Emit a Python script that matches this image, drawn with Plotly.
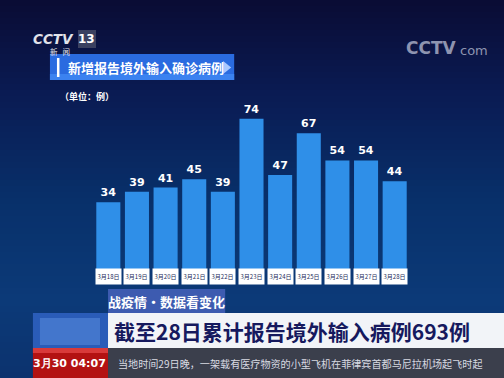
import plotly.graph_objects as go

categories = ["3月18日", "3月19日", "3月20日", "3月21日", "3月22日", "3月23日",
              "3月24日", "3月25日", "3月26日", "3月27日", "3月28日"]
values = [34, 39, 41, 45, 39, 74, 47, 67, 54, 54, 44]
title_text = "新增报告境外输入确诊病例"
unit_text = "（单位：例）"
tag_text = "战疫情•数据看变化"
headline_text = "截至28日累计报告境外输入病例693例"
ticker_time = "3月30 04:07"
ticker_text = "当地时间29日晚，一架载有医疗物资的小型飞机在菲律宾首都马尼拉机场起飞时起"

W, H = 504, 378
L, R, T, B = 94, 408.6, 100, 273
PW, PH = R - L, B - T

def px(x):
    return (x - L) / PW

def py(y):
    return (B - y) / PH

def lerp(c1, c2, t):
    return "#%02x%02x%02x" % tuple(int(round(c1[i] + (c2[i] - c1[i]) * t)) for i in range(3))

shapes = []
# background gradient stripes
stops = [(0, (10, 12, 52)), (90, (10, 26, 82)), (200, (8, 48, 106)), (300, (12, 58, 120)), (378, (12, 50, 110))]
step = 6
for y0 in range(0, H, step):
    yc = y0 + step / 2
    for i in range(len(stops) - 1):
        if stops[i][0] <= yc <= stops[i + 1][0]:
            t = (yc - stops[i][0]) / (stops[i + 1][0] - stops[i][0])
            col = lerp(stops[i][1], stops[i + 1][1], t)
            break
    shapes.append(dict(type="rect", xref="paper", yref="paper", x0=px(0), x1=px(W),
                       y0=py(y0), y1=py(y0 + step + 0.5), fillcolor=col, line_width=0, layer="below"))

def rect(x0, y0, x1, y1, color, layer="above", **kw):
    d = dict(type="rect", xref="paper", yref="paper", x0=px(x0), x1=px(x1),
             y0=py(y1), y1=py(y0), fillcolor=color, line_width=0, layer=layer)
    d.update(kw)
    shapes.append(d)

# title bar
rect(50, 54, 234, 80, "#2a6be0")
rect(50, 74, 234, 80, "#3b82f0")
rect(57, 58, 59.5, 77, "#ffffff")
shapes.append(dict(type="path", xref="paper", yref="paper",
                   path="M %f %f L %f %f L %f %f Z" % (px(223), py(61), px(231), py(67.5), px(223), py(74)),
                   fillcolor="#a9c8ff", line_width=0))
# logo 13 box
rect(78, 30, 96, 48, "#3a4060", line=dict(color="#c8ccd8", width=1))
# bottom banners
rect(108, 289, 225, 313, "#3d5bb0")
rect(33, 313, 108, 348, "#2a5cb8")
rect(40, 318, 100, 345, "#5b8fe0", opacity=0.5)
rect(108, 313, 504, 348, "#f2f4f8")
rect(33, 348, 108, 378, "#b31212")
rect(33, 348, 108, 353, "#d83a3a")
rect(108, 348, 504, 378, "#3b3f4c")

annotations = []
for c in categories:
    annotations.append(dict(x=c, xref="x", y=py(284.5), yref="paper", text=c,
                            showarrow=False, bgcolor="#ffffff", width=23, height=13,
                            font=dict(size=6, color="#1a2a5a", family="Noto Sans CJK SC")))

def text(x, y, s, size, color, anchor="left", bold=False, family="Noto Sans CJK SC"):
    annotations.append(dict(x=px(x), y=py(y), xref="paper", yref="paper", text=("<b>%s</b>" % s) if bold else s,
                            showarrow=False, xanchor=anchor, yanchor="middle",
                            font=dict(size=size, color=color, family=family)))

text(66, 67, title_text, 13, "#ffffff", bold=True)
text(58, 96, unit_text, 9, "#ffffff", bold=True)
text(31, 39, "<i>CCTV</i>", 13.5, "#e0e2ea", bold=True, family="DejaVu Sans")
text(87, 39, "13", 12, "#ffffff", anchor="center", bold=True, family="DejaVu Sans")
text(48, 51, "新   闻", 7.5, "#e0e2ea")
text(404, 48, "CCTV", 17, "#8e94b0", bold=True, family="DejaVu Sans")
text(458, 50, "com", 13, "#8e94b0", family="DejaVu Sans")
text(166.5, 301, tag_text, 13, "#ffffff", anchor="center", bold=True)
text(112, 331, headline_text, 21, "#16195e", bold=True)
text(70, 363, ticker_time, 11, "#ffffff", anchor="center", bold=True, family="DejaVu Sans")
text(116, 363, ticker_text, 10.1, "#d8dae2")

fig = go.Figure(go.Bar(
    x=categories, y=values, text=["<b>%d</b>" % v for v in values], textposition="outside",
    textfont=dict(size=11, color="#ffffff", family="DejaVu Sans"),
    marker=dict(color="#2f8fe8", line_width=0), width=0.84, cliponaxis=False,
))
fig.update_layout(
    width=W, height=H, margin=dict(l=L, r=W - R, t=T, b=H - B),
    paper_bgcolor="#0a1e52", plot_bgcolor="rgba(0,0,0,0)",
    showlegend=False, shapes=shapes, annotations=annotations,
    xaxis=dict(type="category", range=[-0.5, 10.5], showticklabels=False, showgrid=False, zeroline=False, fixedrange=True),
    yaxis=dict(range=[0, 83], showticklabels=False, showgrid=False, zeroline=False, fixedrange=True),
    uniformtext=dict(minsize=6),
)
fig.write_html("out.html", config={"displayModeBar": False},
               post_script="document.body.style.margin='0';")
